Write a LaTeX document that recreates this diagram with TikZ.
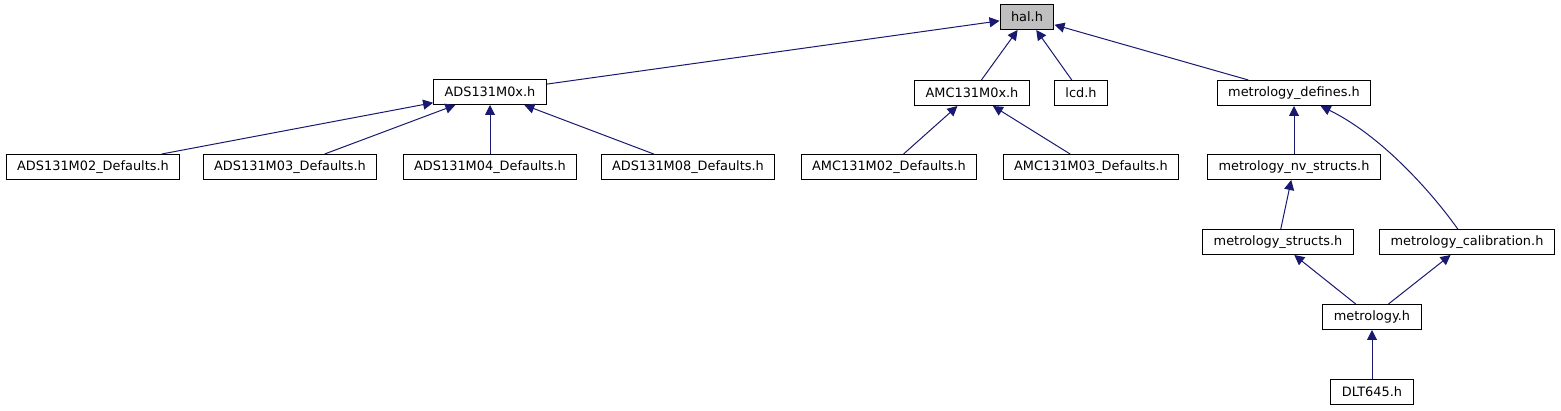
\documentclass[tikz,border=0pt]{standalone}
\usepackage{fontspec}
\setmainfont{DejaVu Sans}
\usetikzlibrary{arrows.meta}
\definecolor{edgeblue}{HTML}{191970}
\definecolor{hdrgray}{HTML}{BFBFBF}

\begin{document}
\begin{tikzpicture}[x=1pt, y=-1pt,
      f/.style={draw=black, fill=white, line width=1pt, font=\fontsize{12.9}{15}\selectfont, inner xsep=11pt, inner ysep=0pt, minimum height=25pt},
      e/.style={draw=edgeblue, line width=1pt, -{Triangle[length=10pt, width=10pt]}}]
    \useasboundingbox (0,0) rectangle (1561,411);
    % top level
    \node[f, fill=hdrgray] (hal) at (1027,17) {hal.h};
    \node[f] (ads) at (490,92) {ADS131M0x.h};
    \node[f] (amc) at (972,93) {AMC131M0x.h};
    \node[f] (lcd) at (1081,93) {lcd.h};
    \node[f] (def) at (1294,93) {metrology\_defines.h};
    % second row
    \node[f] (ads02) at (93,167) {ADS131M02\_Defaults.h};
    \node[f] (ads03) at (290,167) {ADS131M03\_Defaults.h};
    \node[f] (ads04) at (490,167) {ADS131M04\_Defaults.h};
    \node[f] (ads08) at (688,167) {ADS131M08\_Defaults.h};
    \node[f] (amc02) at (889,167) {AMC131M02\_Defaults.h};
    \node[f] (amc03) at (1091,167) {AMC131M03\_Defaults.h};
    \node[f] (nv) at (1294,167) {metrology\_nv\_structs.h};
    % lower rows
    \node[f] (str) at (1278,242) {metrology\_structs.h};
    \node[f] (cal) at (1467,242) {metrology\_calibration.h};
    \node[f] (met) at (1372,317) {metrology.h};
    \node[f] (dlt) at (1372,392) {DLT645.h};
    % edges
    \draw[e] (ads) -- (hal); \draw[e] (amc) -- (hal); \draw[e] (lcd) -- (hal); \draw[e] (def) -- (hal);
    \draw[e] (ads02) -- (ads); \draw[e] (ads03) -- (ads); \draw[e] (ads04) -- (ads); \draw[e] (ads08) -- (ads);
    \draw[e] (amc02) -- (amc); \draw[e] (amc03) -- (amc);
    \draw[e] (nv) -- (def);
    \draw[e] (cal) .. controls (1430,190) and (1380,135) .. (def);
    \draw[e] (str) -- (nv);
    \draw[e] (met) -- (str); \draw[e] (met) -- (cal);
    \draw[e] (dlt) -- (met);
  \end{tikzpicture}
\end{document}
